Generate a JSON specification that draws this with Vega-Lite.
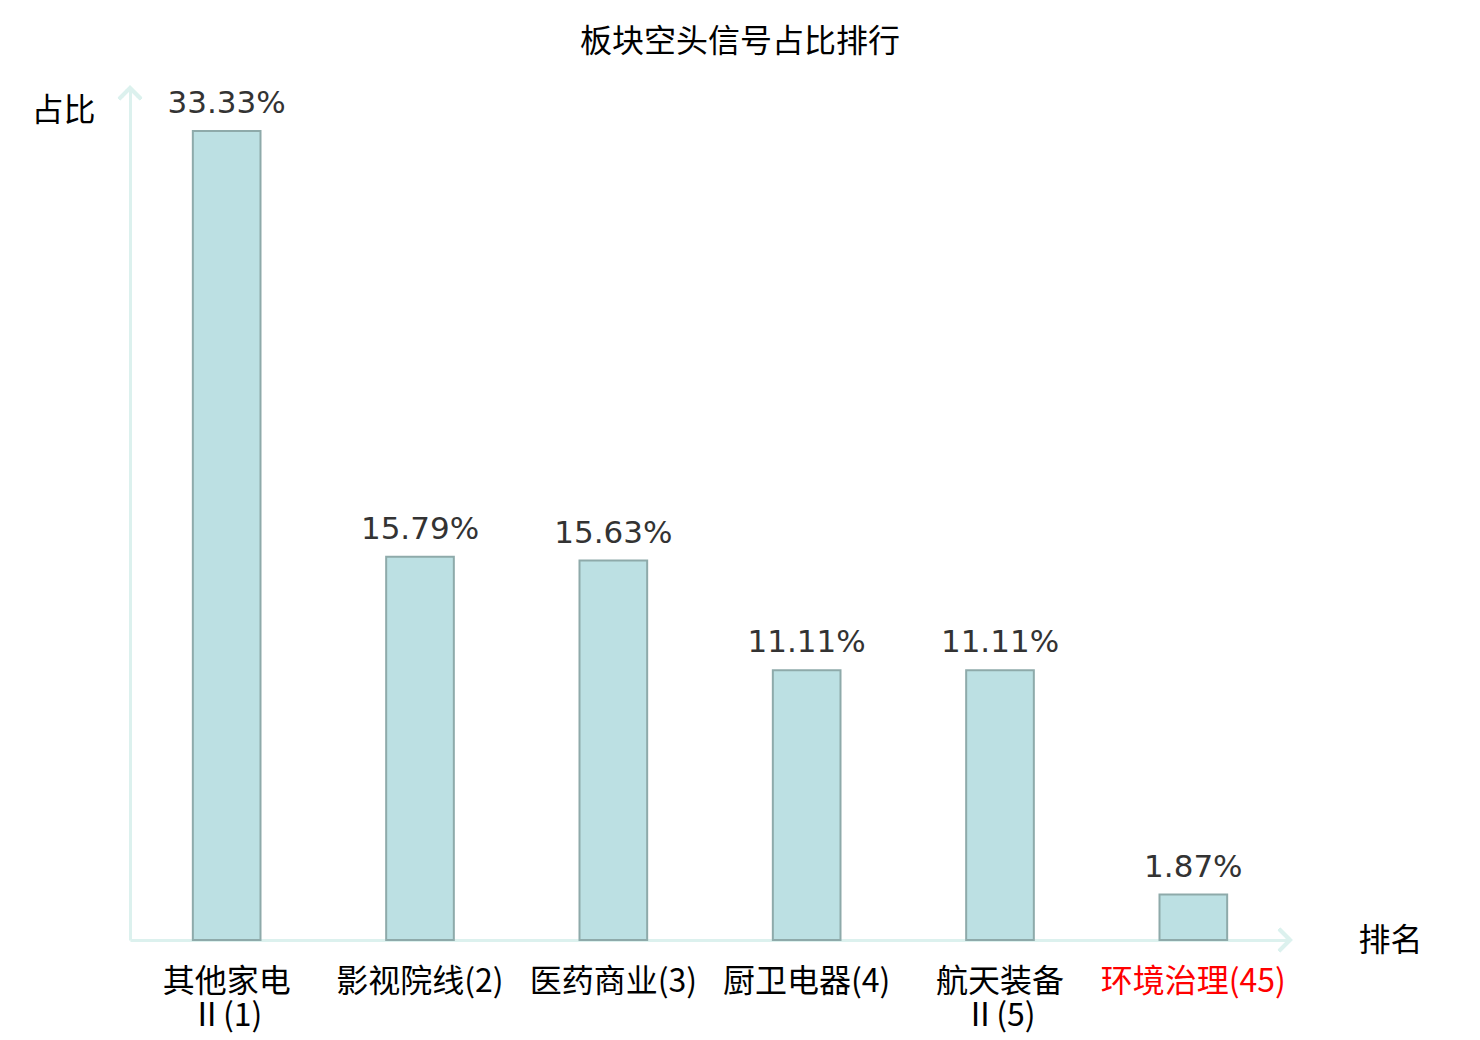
{
  "$schema": "https://vega.github.io/schema/vega-lite/v6.json",
  "background": "white",
  "autosize": "none",
  "padding": {"left": 130, "top": 88, "right": 190, "bottom": 100},
  "width": 1160,
  "height": 852,
  "title": {
    "text": "板块空头信号占比排行",
    "font": "Noto Sans CJK SC",
    "fontSize": 32,
    "fontWeight": "normal",
    "color": "#000000",
    "anchor": "middle",
    "dx": 30,
    "offset": 22
  },
  "data": {
    "values": [
      {"板块": "其他家电\nⅡ(1)", "占比": 33.33, "标签": "33.33%"},
      {"板块": "影视院线(2)", "占比": 15.79, "标签": "15.79%"},
      {"板块": "医药商业(3)", "占比": 15.63, "标签": "15.63%"},
      {"板块": "厨卫电器(4)", "占比": 11.11, "标签": "11.11%"},
      {"板块": "航天装备\nⅡ(5)", "占比": 11.11, "标签": "11.11%"},
      {"板块": "环境治理(45)", "占比": 1.87, "标签": "1.87%"}
    ]
  },
  "config": {
    "view": {"stroke": null},
    "axis": {"grid": false}
  },
  "encoding": {
    "x": {
      "field": "板块",
      "type": "nominal",
      "sort": null,
      "scale": {"paddingInner": 0.65, "paddingOuter": 0.325},
      "axis": {
        "title": "排名",
        "titleFont": "Noto Sans CJK SC",
        "titleFontSize": 32,
        "titleFontWeight": "normal",
        "titleColor": "#000000",
        "titleX": 1260,
        "titleY": 0,
        "titleAlign": "center",
        "titleBaseline": "middle",
        "labelAngle": 0,
        "labelFont": "Noto Sans CJK SC",
        "labelFontSize": 32,
        "labelLineHeight": 34,
        "labelPadding": 26,
        "labelLimit": 400,
        "labelOverlap": false,
        "labelExpr": "split(datum.label, '\\n')",
        "labelColor": {"condition": {"test": "datum.value == '环境治理(45)'", "value": "#ff0000"}, "value": "#000000"},
        "ticks": false,
        "domainColor": "#dcf1ee",
        "domainWidth": 3
      }
    },
    "y": {
      "field": "占比",
      "type": "quantitative",
      "scale": {"domain": [0, 35.1], "nice": false},
      "axis": {
        "title": "占比",
        "titleFont": "Noto Sans CJK SC",
        "titleFontSize": 32,
        "titleFontWeight": "normal",
        "titleColor": "#000000",
        "titleAngle": 0,
        "titleX": -67,
        "titleY": 22,
        "titleAlign": "center",
        "titleBaseline": "middle",
        "labels": false,
        "ticks": false,
        "domainColor": "#dcf1ee",
        "domainWidth": 3
      }
    }
  },
  "layer": [
    {
      "mark": {"type": "bar", "fill": "#bce0e3", "stroke": "#8eaaaa", "strokeWidth": 2}
    },
    {
      "mark": {
        "type": "text",
        "font": "DejaVu Sans",
        "fontSize": 31,
        "color": "#333333",
        "baseline": "alphabetic",
        "dy": -18
      },
      "encoding": {"text": {"field": "标签"}}
    },
    {
      "mark": {
        "type": "point",
        "shape": "M -1 1 L 0 0 L 1 1",
        "filled": false,
        "stroke": "#dcf1ee",
        "strokeWidth": 3.5,
        "size": 484,
        "opacity": 1
      },
      "encoding": {
        "x": {"value": 0},
        "y": {"datum": 35.1}
      }
    },
    {
      "mark": {
        "type": "point",
        "shape": "M -1 -1 L 0 0 L -1 1",
        "filled": false,
        "stroke": "#dcf1ee",
        "strokeWidth": 3.5,
        "size": 484,
        "opacity": 1
      },
      "encoding": {
        "x": {"value": 1160},
        "y": {"datum": 0}
      }
    }
  ]
}
